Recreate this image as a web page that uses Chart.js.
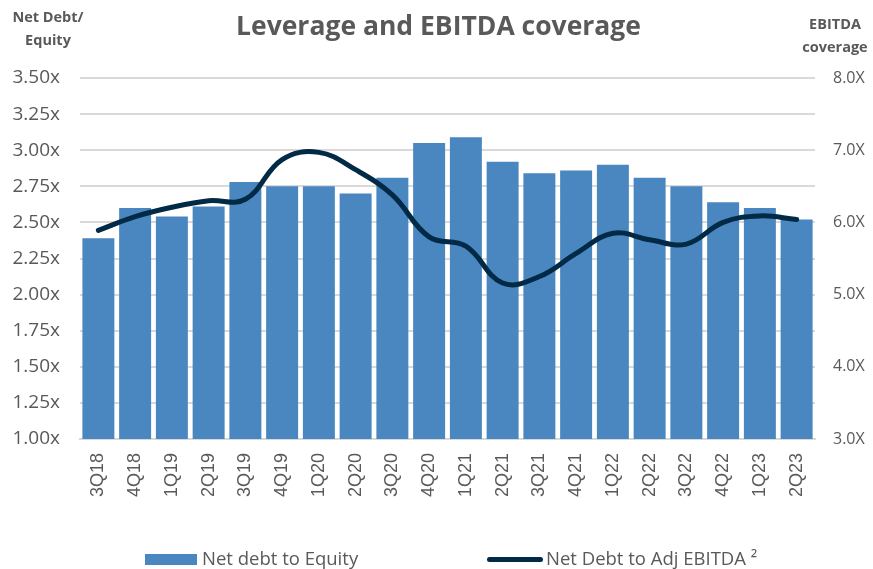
<!DOCTYPE html>
<html>
<head>
<meta charset="utf-8">
<script src="https://cdn.jsdelivr.net/npm/chart.js@4/dist/chart.umd.min.js"></script>
<style>
  body { margin: 0; background: #fff; }
  #wrap { position: relative; width: 873px; height: 569px; font-family: "Open Sans", sans-serif; color: #595959; }
  #chart { position: absolute; left: 0; top: 0; }
  .txt { position: absolute; white-space: nowrap; }
  #title { left: 2px; width: 873px; top: 7px; text-align: center; font-size: 26.5px; font-weight: bold; }
  .axt { font-size: 14.5px; font-weight: bold; text-align: center; line-height: 23px; }
  .lg-box { position: absolute; left: 145px; top: 554px; width: 52px; height: 11px; background: #4a86bf; }
  .lg-line { position: absolute; left: 487px; top: 557px; width: 56px; height: 5px; border-radius: 3px; background: #002a46; }
  .lg-txt { font-size: 18.5px; top: 545px; }
</style>
</head>
<body>
<div id="wrap">
  <canvas id="chart" width="873" height="569"></canvas>
  <div id="title" class="txt">Leverage and EBITDA coverage</div>
  <div class="txt axt" style="left:8px; top:5px; width:80px;">Net Debt/<br>Equity</div>
  <div class="txt axt" style="left:795px; top:12px; width:80px;">EBITDA<br>coverage</div>
  <div class="lg-box"></div>
  <div class="txt lg-txt" style="left:202px;">Net debt to Equity</div>
  <div class="lg-line"></div>
  <div class="txt lg-txt" style="left:546px;">Net Debt to Adj EBITDA ²</div>
</div>
<script>
// quarters on the x axis
const quarters = ['3Q18', '4Q18', '1Q19', '2Q19', '3Q19', '4Q19', '1Q20', '2Q20', '3Q20', '4Q20',
                  '1Q21', '2Q21', '3Q21', '4Q21', '1Q22', '2Q22', '3Q22', '4Q22', '1Q23', '2Q23'];
// net debt / equity (left axis)
const netDebtEquity = [2.39, 2.60, 2.54, 2.61, 2.78, 2.75, 2.75, 2.70, 2.81, 3.05,
                       3.09, 2.92, 2.84, 2.86, 2.90, 2.81, 2.75, 2.64, 2.60, 2.52];
// net debt / adj EBITDA (right axis)
const netDebtEbitda = [5.89, 6.08, 6.21, 6.30, 6.32, 6.87, 6.97, 6.73, 6.38, 5.80,
                       5.67, 5.16, 5.25, 5.57, 5.85, 5.76, 5.70, 6.00, 6.09, 6.04];

const grey = '#595959';

const ctx = document.getElementById('chart').getContext('2d');
const chart = new Chart(ctx, {
    type: 'bar',
    data: {
        labels: quarters,
        datasets: [{
            type: 'line',
            label: 'Net Debt to Adj EBITDA ²',
            data: netDebtEbitda,
            yAxisID: 'y1',
            borderColor: '#002a46',
            borderWidth: 5,
            borderCapStyle: 'round',
            tension: 0.4,
            pointRadius: 0,
            order: 0
        }, {
            label: 'Net debt to Equity',
            data: netDebtEquity,
            yAxisID: 'y',
            backgroundColor: '#4a86bf',
            barPercentage: 0.87,
            categoryPercentage: 1,
            order: 1
        }]
    },
    options: {
        responsive: false,
        animation: false,
        layout: { padding: { top: 78, bottom: 50, left: 0, right: 0 } },
        plugins: {
            legend: { display: false },
            tooltip: { enabled: false }
        },
        scales: {
            x: {
                grid: { display: false, drawTicks: false },
                border: { display: true, color: '#d9d9d9', width: 2 },
                ticks: {
                    minRotation: 90,
                    maxRotation: 90,
                    padding: 14,
                    color: grey,
                    font: { family: 'Liberation Sans', size: 18 }
                },
                afterFit: function(scale) { scale.height = 80; }
            },
            y: {
                position: 'left',
                min: 1,
                max: 3.5,
                grid: { color: '#d9d9d9', lineWidth: 2, drawTicks: false },
                border: { display: false },
                ticks: {
                    stepSize: 0.25,
                    padding: 20,
                    color: grey,
                    font: { family: 'Open Sans', size: 19 },
                    callback: v => v.toFixed(2) + 'x'
                },
                afterFit: function(scale) { scale.width = 80; }
            },
            y1: {
                position: 'right',
                min: 3,
                max: 8,
                grid: { display: false, drawTicks: false },
                border: { display: false },
                ticks: {
                    stepSize: 1,
                    padding: 18,
                    color: grey,
                    font: { family: 'Open Sans', size: 16 },
                    callback: v => v.toFixed(1) + 'X'
                },
                afterFit: function(scale) { scale.width = 58; }
            }
        }
    }
});
</script>
</body>
</html>
